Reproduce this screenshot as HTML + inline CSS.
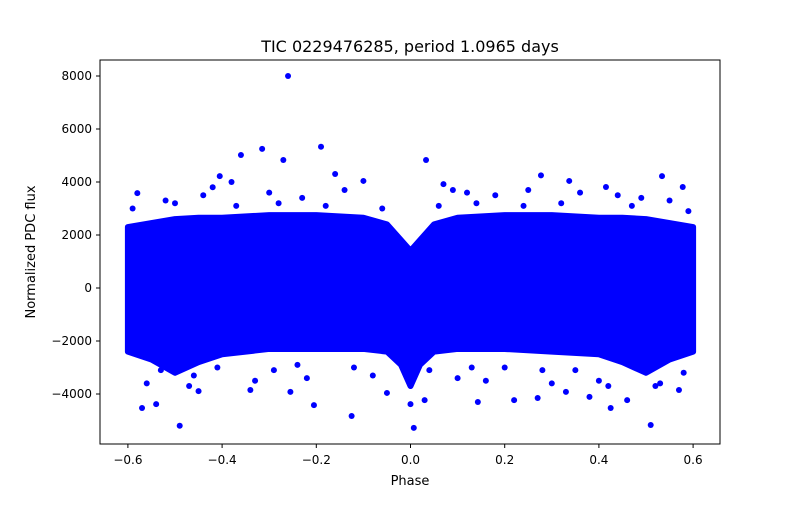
<!DOCTYPE html>
<html><head><meta charset="utf-8"><style>
body{margin:0;background:#fff;font-family:"Liberation Sans","DejaVu Sans",sans-serif}
svg text{font-family:"DejaVu Sans","Liberation Sans",sans-serif}
</style></head><body>
<svg id="c" width="800" height="500" xmlns="http://www.w3.org/2000/svg">
<rect width="800" height="500" fill="#fff"/>
<text x="410" y="52" text-anchor="middle" font-size="16">TIC 0229476285, period 1.0965 days</text>
<text x="410" y="485" text-anchor="middle" font-size="13">Phase</text>
<text transform="translate(35,252) rotate(-90)" text-anchor="middle" font-size="13">Normalized PDC flux</text>
<g id="marks"></g>
<rect x="100" y="60" width="620" height="384" fill="none" stroke="#000" stroke-width="1"/>
<g id="axes"></g>
</svg>
<script>
const xTicks=[-0.6,-0.4,-0.2,0.0,0.2,0.4,0.6];
const xTickLabels=["−0.6","−0.4","−0.2","0.0","0.2","0.4","0.6"];
const yTicks=[-4000,-2000,0,2000,4000,6000,8000];
const yTickLabels=["−4000","−2000","0","2000","4000","6000","8000"];
const bandPhase=[-0.6,-0.55,-0.5,-0.45,-0.4,-0.3,-0.2,-0.1,-0.05,-0.02,0,0.02,0.05,0.1,0.2,0.3,0.4,0.45,0.5,0.55,0.6];
const bandUpper=[2300,2450,2600,2650,2650,2750,2750,2650,2400,1800,1400,1800,2400,2650,2750,2750,2650,2650,2600,2450,2300];
const bandLower=[-2400,-2700,-3200,-2800,-2500,-2300,-2300,-2300,-2400,-2900,-3700,-2900,-2400,-2300,-2300,-2400,-2500,-2800,-3200,-2700,-2400];
const outPhase=[-0.26,-0.19,-0.36,-0.315,-0.27,0.033,-0.16,0.277,0.534,-0.405,0.337,-0.10,-0.38,-0.58,0.578,0.415,0.07,-0.49,0.007,0.51,-0.125,-0.57,0.425,-0.205,0.143,-0.54,0.0,0.22,0.27,0.38,0.46,0.03,-0.255,-0.34,-0.45,-0.05,0.33,0.57,-0.52,-0.44,-0.3,-0.23,-0.14,0.12,0.18,0.25,0.36,0.44,0.49,0.55,-0.56,-0.47,-0.33,-0.22,-0.08,0.1,0.16,0.3,0.4,0.53,-0.42,0.09,0.42,-0.59,-0.5,-0.37,-0.28,-0.18,-0.06,0.06,0.14,0.24,0.32,0.47,0.59,-0.53,-0.41,-0.24,-0.12,0.04,0.2,0.35,0.52,-0.46,-0.29,0.13,0.28,0.58];
const outFlux=[8000,5330,5020,5250,4830,4830,4300,4250,4220,4220,4040,4040,4000,3580,3810,3810,3920,-5200,-5280,-5170,-4830,-4530,-4530,-4420,-4300,-4380,-4380,-4230,-4150,-4110,-4230,-4230,-3920,-3850,-3890,-3960,-3920,-3850,3300,3500,3600,3400,3700,3600,3500,3700,3600,3500,3400,3300,-3600,-3700,-3500,-3400,-3300,-3400,-3500,-3600,-3500,-3600,3800,3700,-3700,3000,3200,3100,3200,3100,3000,3100,3200,3100,3200,3100,2900,-3100,-3000,-2900,-3000,-3100,-3000,-3100,-3700,-3300,-3100,-3000,-3100,-3200];
const X=p=>410.5+p*471, Y=f=>288-f*0.0265;
const NS='http://www.w3.org/2000/svg';
const mk=(t,a,par)=>{const e=document.createElementNS(NS,t);for(const k in a)e.setAttribute(k,a[k]);par.appendChild(e);return e;};
const marks=document.getElementById('marks'), axes=document.getElementById('axes');
let pts=bandPhase.map((p,i)=>X(p)+','+Y(bandUpper[i]));
for(let i=bandPhase.length-1;i>=0;i--)pts.push(X(bandPhase[i])+','+Y(bandLower[i]));
const band=mk('polygon',{points:pts.join(' '),fill:'#0000ff',stroke:'#0000ff','stroke-width':6,'stroke-linejoin':'round'},marks);


outPhase.forEach((p,i)=>{const c=mk('circle',{cx:X(p),cy:Y(outFlux[i]),r:3,fill:'#0000ff'},marks);

});
xTicks.forEach((t,i)=>{const x=X(t);mk('line',{x1:x,x2:x,y1:444,y2:448,stroke:'#000'},axes);
const tx=mk('text',{x:x,y:464,'text-anchor':'middle','font-size':12},axes);tx.textContent=xTickLabels[i];

});
yTicks.forEach((t,i)=>{const y=Y(t);mk('line',{x1:96,x2:100,y1:y,y2:y,stroke:'#000'},axes);
const tx=mk('text',{x:92,y:y+4,'text-anchor':'end','font-size':12},axes);tx.textContent=yTickLabels[i];

});
</script>
</body></html>
